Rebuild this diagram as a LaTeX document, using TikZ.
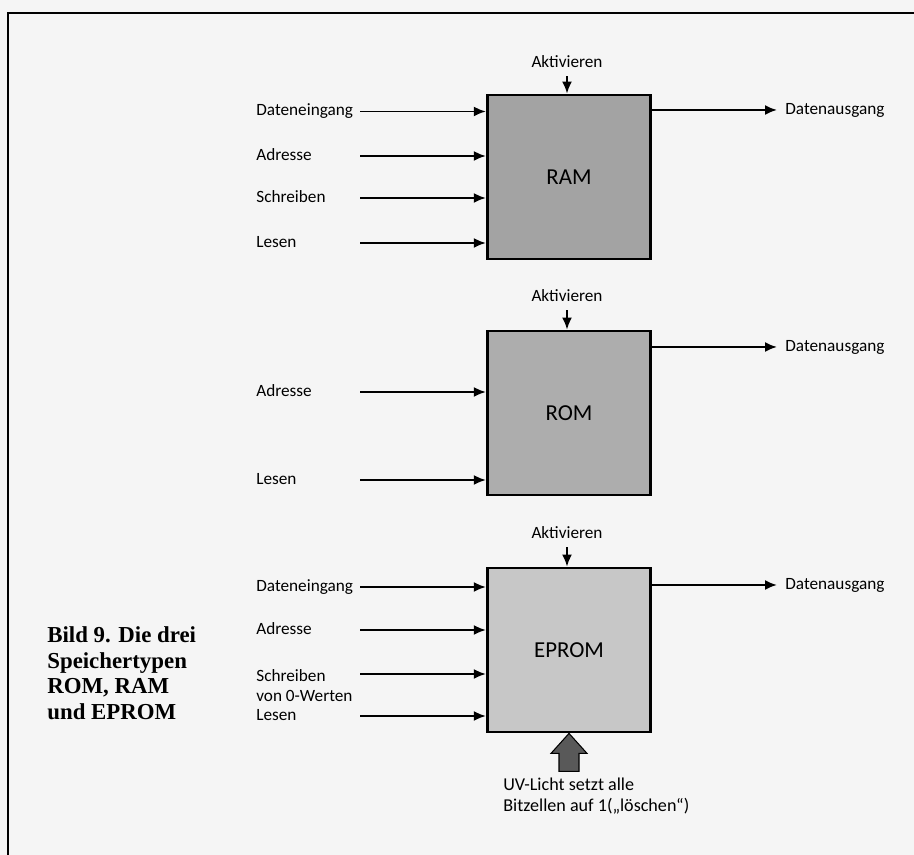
\documentclass[tikz,border=0pt]{standalone}
\usepackage{fontspec}
\setmainfont{Carlito}
\newfontfamily\bildfont{Liberation Serif}
\usetikzlibrary{arrows.meta}

\begin{document}
\begin{tikzpicture}[
    speicher/.style={draw, line width=1.6pt, minimum width=3.27cm, minimum height=3.28cm, font=\fontsize{13}{15}\selectfont},
    sig/.style={line width=1.1pt, -{Latex[length=0.24cm, width=0.2cm]}},
    lbl/.style={anchor=mid west, inner sep=0pt, font=\fontsize{9.8}{11.3}\selectfont},
    akt/.style={inner xsep=1pt, inner ysep=4.5pt, font=\fontsize{9.8}{11.3}\selectfont}
]
    % page and frame
    \fill[black!4] (0,0) rectangle (18.28,17.1);
    \useasboundingbox (0,0) rectangle (18.28,17.1);
    \draw[line width=1.6pt] (18.28,16.84) -- (0.16,16.84) -- (0.16,0);

    % RAM
    \node[speicher, fill=black!36] (ram) at (11.38,13.56) {RAM};
    \node[akt] (ramakt) at (11.34,15.86) {Aktivieren};
    \draw[sig] (ramakt.south) -- (ramakt.south |- ram.north);

    \node[lbl] (ramdin) at (5.12,14.87) {Dateneingang};
    \node[lbl] (ramadr) at (5.12,13.98) {Adresse};
    \node[lbl] (ramwr) at (5.12,13.14) {Schreiben};
    \node[lbl] (ramrd) at (5.12,12.24) {Lesen};
    \coordinate (ramdin0) at (7.2,14.87);
    \coordinate (ramadr0) at (7.2,13.98);
    \coordinate (ramwr0) at (7.2,13.14);
    \coordinate (ramrd0) at (7.2,12.24);
    \draw[sig] (ramdin0) -- (ramdin0 -| ram.west);
    \draw[sig] (ramadr0) -- (ramadr0 -| ram.west);
    \draw[sig] (ramwr0) -- (ramwr0 -| ram.west);
    \draw[sig] (ramrd0) -- (ramrd0 -| ram.west);

    \node[lbl] (ramdout) at (15.7,14.9) {Datenausgang};
    \draw[sig] (ramdout.mid west -| ram.east) -- ([xshift=-0.16cm]ramdout.mid west);

    % ROM
    \node[speicher, fill=black!32] (rom) at (11.38,8.84) {ROM};
    \node[akt] (romakt) at (11.34,11.18) {Aktivieren};
    \draw[sig] (romakt.south) -- (romakt.south |- rom.north);

    \node[lbl] (romadr) at (5.12,9.26) {Adresse};
    \node[lbl] (romrd) at (5.12,7.5) {Lesen};
    \coordinate (romadr0) at (7.2,9.26);
    \coordinate (romrd0) at (7.2,7.5);
    \draw[sig] (romadr0) -- (romadr0 -| rom.west);
    \draw[sig] (romrd0) -- (romrd0 -| rom.west);

    \node[lbl] (romdout) at (15.7,10.16) {Datenausgang};
    \draw[sig] (romdout.mid west -| rom.east) -- ([xshift=-0.16cm]romdout.mid west);

    % EPROM
    \node[speicher, fill=black!22] (eprom) at (11.38,4.10) {EPROM};
    \node[akt] (epromakt) at (11.34,6.44) {Aktivieren};
    \draw[sig] (epromakt.south) -- (epromakt.south |- eprom.north);

    \node[lbl] (epromdin) at (5.12,5.36) {Dateneingang};
    \node[lbl] (epromadr) at (5.12,4.5) {Adresse};
    \node[lbl, anchor=west, align=left] (epromwr) at (5.12,3.39) {Schreiben\\von 0-Werten};
    \node[lbl] (epromrd) at (5.12,2.78) {Lesen};
    \coordinate (epromdin0) at (7.2,5.36);
    \coordinate (epromadr0) at (7.2,4.5);
    \coordinate (epromwr0) at (7.2,3.62);
    \coordinate (epromrd0) at (7.2,2.78);
    \draw[sig] (epromdin0) -- (epromdin0 -| eprom.west);
    \draw[sig] (epromadr0) -- (epromadr0 -| eprom.west);
    \draw[sig] (epromwr0) -- (epromwr0 -| eprom.west);
    \draw[sig] (epromrd0) -- (epromrd0 -| eprom.west);

    \node[lbl] (epromdout) at (15.7,5.4) {Datenausgang};
    \draw[sig] (epromdout.mid west -| eprom.east) -- ([xshift=-0.16cm]epromdout.mid west);

    % UV light from below
    \draw[fill=black!65, line width=0.6pt] (eprom.south) -- ++(0.36,-0.40) -- ++(-0.16,0) -- ++(0,-0.36)
        -- ++(-0.40,0) -- ++(0,0.36) -- ++(-0.16,0) -- cycle;
    \node[lbl, anchor=west, align=left, font=\fontsize{10.3}{11.5}\selectfont] (uv) at (10.06,1.18)
        {UV-Licht setzt alle\\Bitzellen auf 1(„löschen“)};

    % caption
    \node[anchor=west, align=left, inner sep=0pt, font=\bildfont\bfseries\fontsize{13}{14.5}\selectfont] (bild) at (0.94,3.64)
        {Bild 9. Die drei\\Speichertypen\\ROM, RAM\\und EPROM};
\end{tikzpicture}
\end{document}
